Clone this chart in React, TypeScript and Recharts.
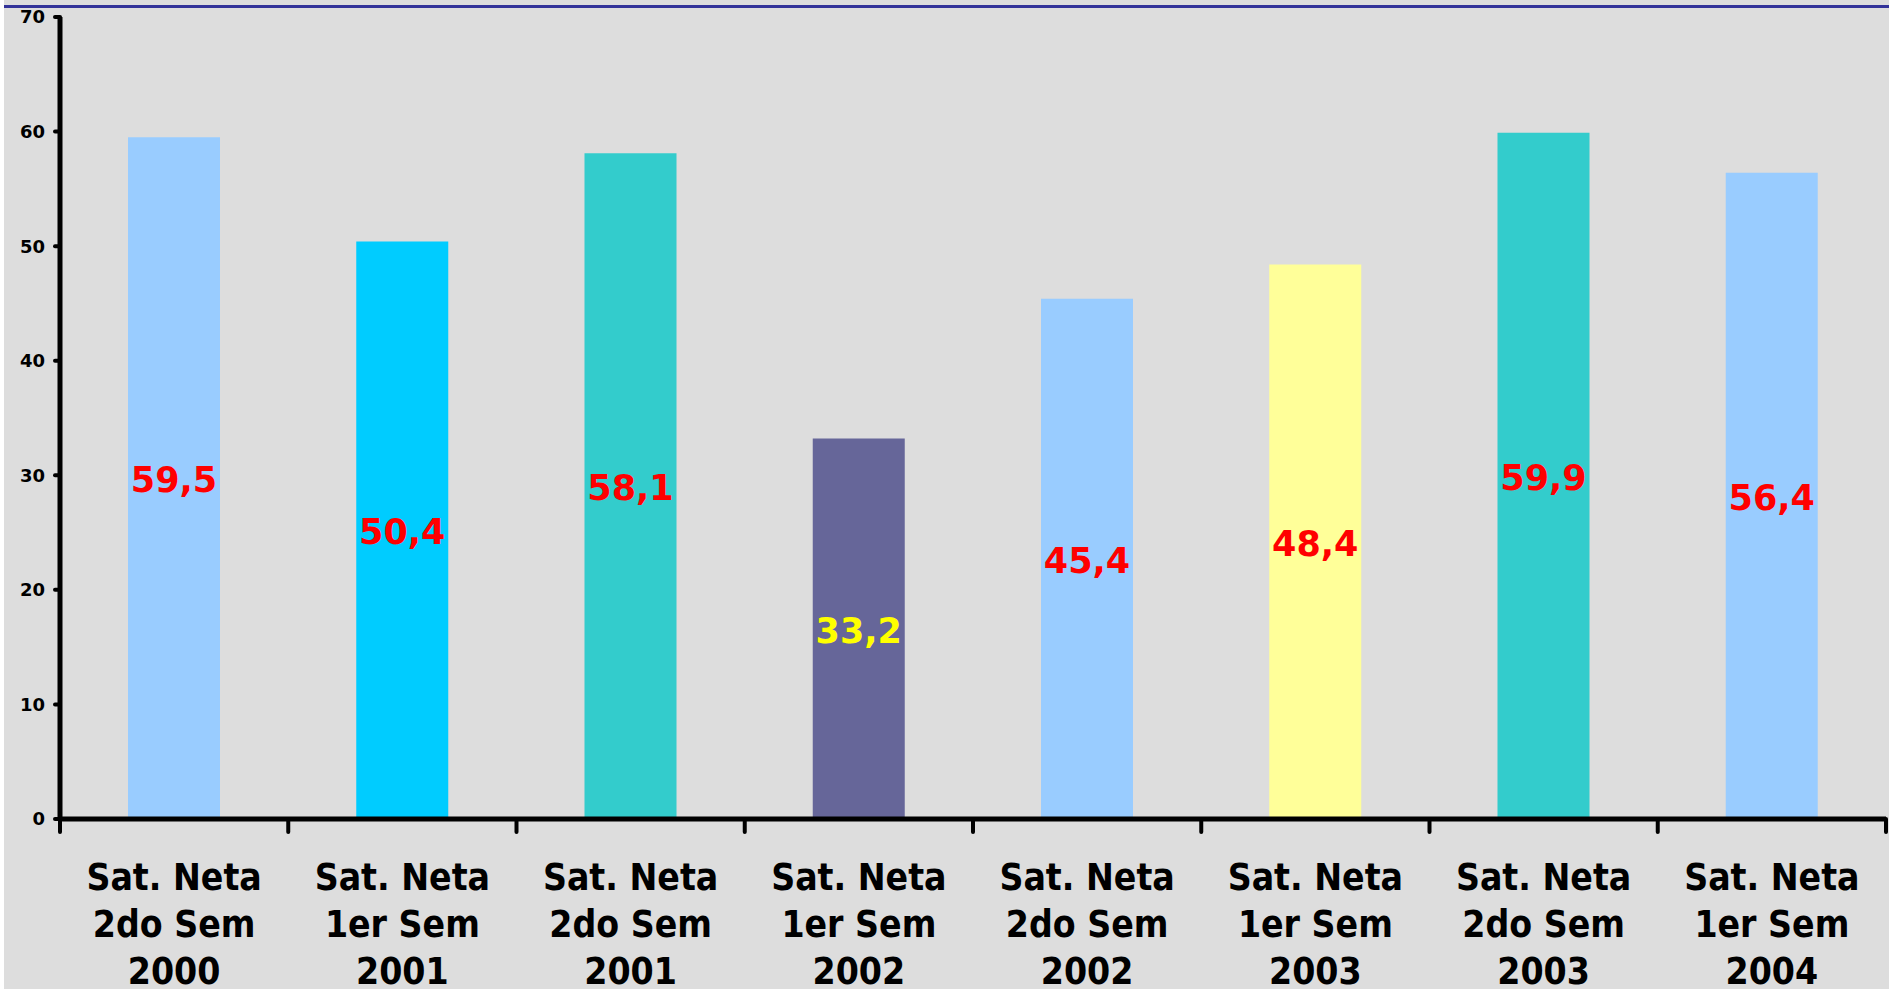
import { BarChart, Bar, XAxis, YAxis, Cell, LabelList } from "recharts";

const CATEGORIAS = [
  "Sat. Neta\n2do Sem\n2000",
  "Sat. Neta\n1er Sem\n2001",
  "Sat. Neta\n2do Sem\n2001",
  "Sat. Neta\n1er Sem\n2002",
  "Sat. Neta\n2do Sem\n2002",
  "Sat. Neta\n1er Sem\n2003",
  "Sat. Neta\n2do Sem\n2003",
  "Sat. Neta\n1er Sem\n2004",
];
const VALORES = [59.5, 50.4, 58.1, 33.2, 45.4, 48.4, 59.9, 56.4];
const COLORES_BARRAS = ['#99ccff', '#00ccff', '#33cccc', '#666699', '#99ccff', '#ffff99', '#33cccc', '#99ccff'];
const COLORES_ETIQUETAS = ['#ff0000', '#ff0000', '#ff0000', '#ffff00', '#ff0000', '#ff0000', '#ff0000', '#ff0000'];
const TICKS_Y = [0, 10, 20, 30, 40, 50, 60, 70];

const data = CATEGORIAS.map((name, i) => ({ name, value: VALORES[i] }));

const FUENTE_EJE = "'DejaVu Sans Condensed', 'DejaVu Sans', sans-serif";

// ticks del eje X en los bordes de cada categoría, no en el centro
const TickCategoria = ({ x, y, payload, index, width }: any) => {
  const banda = (width || 1826) / CATEGORIAS.length;
  const lineas = String(payload.value).split("\n");
  return (
    <g>
      <line x1={x - banda / 2} x2={x - banda / 2} y1={y} y2={y + 13} stroke="#000" strokeWidth={4} strokeLinecap="round" />
      {index === CATEGORIAS.length - 1 && (
        <line x1={x + banda / 2} x2={x + banda / 2} y1={y} y2={y + 13} stroke="#000" strokeWidth={4} strokeLinecap="round" />
      )}
      <text x={x} textAnchor="middle" fontFamily={FUENTE_EJE} fontWeight="bold" fontSize={37} fill="#000">
        {lineas.map((l, i) => (
          <tspan key={i} x={x} y={y + 71 + i * 47}>{l}</tspan>
        ))}
      </text>
    </g>
  );
};

const EtiquetaValor = (props: any) => {
  const { x, y, width, height, value, index } = props;
  return (
    <text
      x={x + width / 2}
      y={y + height / 2}
      dy="0.4em"
      textAnchor="middle"
      fill={COLORES_ETIQUETAS[index]}
      fontFamily="'DejaVu Sans', sans-serif"
      fontWeight="bold"
      fontSize={35}
    >
      {String(value).replace(".", ",")}
    </text>
  );
};

export default function App() {
  return (
    <div style={{ position: "absolute", left: 0, top: 0, width: 1889, height: 989, background: "#ffffff", overflow: "hidden" }}>
      <div style={{ position: "absolute", left: 4, top: 0, width: 1885, height: 989, background: "#dddddd" }} />
      <div style={{ position: "absolute", left: 4, top: 5, width: 1885, height: 3, background: "#333399" }} />
      <div style={{ position: "absolute", left: 0, top: 0 }}>
        <BarChart width={1889} height={989} data={data} margin={{ top: 17, right: 3, left: 0, bottom: 0 }}>
          <XAxis
            dataKey="name"
            height={170}
            interval={0}
            tickLine={false}
            tickSize={0}
            tickMargin={0}
            axisLine={{ stroke: "#000", strokeWidth: 5 }}
            tick={<TickCategoria />}
          />
          <YAxis
            width={60}
            domain={[0, 70]}
            ticks={TICKS_Y}
            interval={0}
            tickSize={5}
            tickMargin={10}
            axisLine={{ stroke: "#000", strokeWidth: 5 }}
            tickLine={{ stroke: "#000", strokeWidth: 4, strokeLinecap: "round" }}
            tick={{ fill: "#000", fontSize: 18, fontWeight: "bold", fontFamily: "'DejaVu Sans', sans-serif" }}
          />
          <Bar dataKey="value" barSize={92} isAnimationActive={false}>
            {data.map((entry, index) => (
              <Cell key={`cell-${index}`} fill={COLORES_BARRAS[index % COLORES_BARRAS.length]} />
            ))}
            <LabelList dataKey="value" content={<EtiquetaValor />} />
          </Bar>
        </BarChart>
      </div>
    </div>
  );
}
